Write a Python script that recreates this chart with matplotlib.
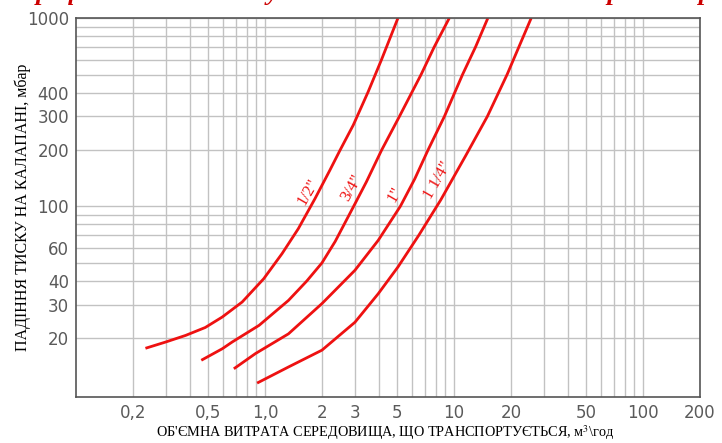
import matplotlib
matplotlib.use("Agg")
from matplotlib import pyplot as plt
from matplotlib.ticker import FixedLocator, NullFormatter

# витрата, м3/год  -> падіння тиску, мбар
x_12 = [0.233, 0.298, 0.38, 0.483, 0.594, 0.757, 0.984, 1.23, 1.50, 1.84, 2.2, 2.49, 2.93, 3.51, 4.13, 5.05]
y_12 = [17.6, 19.0, 20.6, 22.7, 25.8, 31.0, 41.2, 56.0, 76.0, 110, 155, 198, 270, 405, 600, 1000]

x_34 = [0.46, 0.594, 0.67, 0.93, 1.33, 1.66, 2.0, 2.35, 2.99, 3.44, 4.13, 5.14, 6.70, 7.86, 9.44]
y_34 = [15.2, 17.5, 19.0, 23.3, 31.6, 40.0, 50.0, 65.0, 103, 135, 198, 300, 502, 703, 1000]

x_1 = [0.684, 0.89, 1.33, 2.0, 2.99, 3.97, 5.2, 6.2, 7.3, 8.89, 11.1, 13.0, 15.1]
y_1 = [13.7, 16.5, 21.0, 30.4, 45.7, 65.9, 100, 140, 200, 300, 502, 703, 1000]

x_114 = [0.908, 1.33, 2.0, 2.99, 3.97, 5.05, 6.5, 8.5, 11.5, 15.0, 19.1, 25.6]
y_114 = [11.5, 14.0, 17.2, 24.2, 34.3, 47.6, 70.0, 108, 185, 300, 502, 1000]

curves = [(x_12, y_12), (x_34, y_34), (x_1, y_1), (x_114, y_114)]
names = ['1/2"', '3/4"', '1"', '1 1/4"']
label_pos = [(1.684, 118.7), (2.87, 124.7), (4.83, 115.8), (8.15, 137.5)]

xticks = [0.2, 0.5, 1, 2, 3, 5, 10, 20, 50, 100, 200]
xticklabels = ['0,2', '0,5', '1,0', '2', '3', '5', '10', '20', '50', '100', '200']
yticks = [20, 30, 40, 60, 100, 200, 300, 400, 1000]
yticklabels = ['20', '30', '40', '60', '100', '200', '300', '400', '1000']
xgrid = [0.2, 0.3, 0.4, 0.5, 0.6, 0.7, 0.8, 0.9, 1, 2, 3, 4, 5, 6, 7, 8, 9, 10,
         20, 30, 40, 50, 60, 70, 80, 90, 100]
ygrid = [20, 30, 40, 50, 60, 70, 80, 90, 100, 200, 300, 400, 500, 600, 700, 800, 900, 1000]

title = "Графік падіння тиску на клапані від об'ємної витрати середовища"

plt.rcParams['mathtext.fontset'] = 'stix'

fig = plt.figure(figsize=(7.22, 4.43), dpi=100)
ax = fig.add_axes([76 / 722, 1 - 397 / 443, 624 / 722, 379 / 443])

red = '#ee1111'
for (xs, ys) in curves:
    ax.plot(xs, ys, color=red, lw=2, solid_capstyle='butt')

for name, (lx, ly) in zip(names, label_pos):
    ax.text(lx, ly, name, color=red, rotation=60, ha='center', va='center',
            rotation_mode='anchor', fontsize=12, family='Liberation Serif')

ax.set_xscale('log')
ax.set_yscale('log')
ax.set_xlim(0.1, 200)
ax.set_ylim(9.7, 1000)

ax.xaxis.set_major_locator(FixedLocator(xticks))
ax.set_xticklabels(xticklabels)
ax.xaxis.set_minor_locator(FixedLocator(xgrid))
ax.xaxis.set_minor_formatter(NullFormatter())
ax.yaxis.set_major_locator(FixedLocator(yticks))
ax.set_yticklabels(yticklabels)
ax.yaxis.set_minor_locator(FixedLocator(ygrid))
ax.yaxis.set_minor_formatter(NullFormatter())

ax.grid(which='both', color='#c2c2c2', lw=1)
ax.set_axisbelow(True)
ax.tick_params(which='both', length=0, labelsize=12, labelcolor='#5a5a5a')
ax.tick_params(axis='x', pad=5)
ax.tick_params(axis='y', pad=5)
for sp in ax.spines.values():
    sp.set_color('#555555')
    sp.set_linewidth(1.2)

ax.set_ylabel('ПАДІННЯ ТИСКУ НА КАЛАПАНІ, мбар', family='Liberation Serif',
              fontsize=11.5, va='center')
ax.yaxis.set_label_coords(-(76 - 23) / 624, 0.5)
ax.set_xlabel("ОБ'ЄМНА ВИТРАТА СЕРЕДОВИЩА, ЩО ТРАНСПОРТУЄТЬСЯ, м$^3$\\год",
              family='Liberation Serif', fontsize=10.3, va='center')
ax.xaxis.set_label_coords((385 - 76) / 624, -(433 - 397) / 379)

# заголовок у джерелі обрізаний зверху - видно лише нижні частини літер
fig.text(0.03, 0.999, title, color='#cc0000', fontsize=19, fontweight='bold',
         fontstyle='italic', family='Liberation Serif', va='baseline')

fig.savefig('out.png', dpi=100)
